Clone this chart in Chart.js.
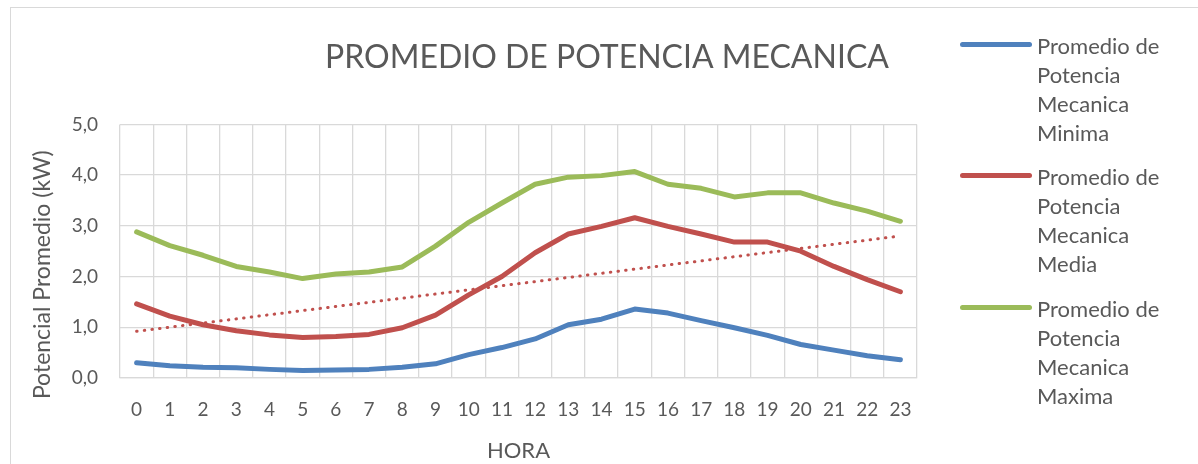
<!DOCTYPE html>
<html>
<head>
<meta charset="utf-8">
<script src="https://cdn.jsdelivr.net/npm/chart.js@4/dist/chart.umd.min.js"></script>
<style>
  html, body { margin: 0; padding: 0; background: #fff; overflow: hidden; }
  #wrap { position: relative; width: 1198px; height: 464px; }
  #frame { position: absolute; left: 10px; top: 7px; width: 1300px; height: 600px; border: 1px solid #d9d9d9; }
  #myChart { position: absolute; left: 0; top: 0; }
  .leg { position: absolute; left: 960px; font-family: Lato, sans-serif; font-size: 22px; line-height: 29px; color: #595959; }
  .leg .sw { position: absolute; left: 0; width: 72px; height: 5px; border-radius: 3px; }
  .leg .txt { position: absolute; left: 77px; top: 0; white-space: nowrap; }
</style>
</head>
<body>
<div id="wrap">
  <div id="frame"></div>
  <canvas id="myChart" width="1198" height="464"></canvas>
  <div id="legend"></div>
</div>
<script>
// horas del dia
const hours = ['0','1','2','3','4','5','6','7','8','9','10','11','12','13','14','15','16','17','18','19','20','21','22','23'];

// potencia mecanica promedio (kW)
const minima = [0.30,0.24,0.21,0.20,0.17,0.15,0.16,0.17,0.21,0.28,0.46,0.60,0.77,1.05,1.16,1.36,1.28,1.13,0.99,0.84,0.66,0.55,0.44,0.36];
const media  = [1.46,1.22,1.05,0.93,0.85,0.80,0.82,0.86,0.99,1.24,1.64,2.00,2.47,2.84,2.99,3.16,2.99,2.84,2.68,2.68,2.50,2.20,1.94,1.70];
const maxima = [2.88,2.61,2.42,2.20,2.09,1.96,2.05,2.09,2.19,2.60,3.07,3.45,3.82,3.96,3.99,4.07,3.82,3.74,3.57,3.65,3.65,3.45,3.29,3.09];

const trendStart = 0.92;
const trendEnd = 2.80;

const yTicks = [0, 1, 2, 3, 4, 5];

const seriesNames = [
  ['Promedio de', 'Potencia', 'Mecanica', 'Minima'],
  ['Promedio de', 'Potencia', 'Mecanica', 'Media'],
  ['Promedio de', 'Potencia', 'Mecanica', 'Maxima']
];
const colors = ['#4f81bd', '#c0504d', '#9bbb59'];

const gridColor = '#d9d9d9';
const textColor = '#595959';
const font = 'Lato';

function lineSet(label, data, color) {
  return {
    label: label,
    data: data,
    borderColor: color,
    backgroundColor: color,
    borderWidth: 5,
    pointRadius: 0,
    borderCapStyle: 'round',
    borderJoinStyle: 'round',
    tension: 0,
    fill: false
  };
}

const trendData = hours.map((h, i) => i === 0 ? trendStart : (i === hours.length - 1 ? trendEnd : null));

const ctx = document.getElementById('myChart').getContext('2d');
new Chart(ctx, {
  type: 'line',
  data: {
    labels: hours,
    datasets: [
      lineSet(seriesNames[0].join(' '), minima, colors[0]),
      lineSet(seriesNames[1].join(' '), media, colors[1]),
      lineSet(seriesNames[2].join(' '), maxima, colors[2]),
      {
        label: 'Lineal (Promedio de Potencia Mecanica Media)',
        data: trendData,
        spanGaps: true,
        borderColor: colors[1],
        borderWidth: 3,
        borderDash: [0.5, 7.2],
        borderCapStyle: 'round',
        pointRadius: 0,
        fill: false
      }
    ]
  },
  options: {
    responsive: false,
    animation: false,
    layout: { padding: { left: 16, right: 0, top: 0, bottom: 0 } },
    plugins: {
      legend: { display: false },
      tooltip: { enabled: false },
      title: {
        display: true,
        text: 'PROMEDIO DE POTENCIA MECANICA',
        color: textColor,
        font: { family: font, size: 32, weight: 'normal', lineHeight: 1.2 },
        padding: { top: 38, bottom: 48 }
      }
    },
    scales: {
      x: {
        offset: true,
        grid: { color: gridColor, lineWidth: 1.3, offset: true, drawTicks: false },
        border: { color: gridColor, width: 1.3 },
        ticks: { color: textColor, font: { family: font, size: 19 }, padding: 20, maxRotation: 0, autoSkip: false },
        title: {
          display: true,
          text: 'HORA',
          color: textColor,
          font: { family: font, size: 22, lineHeight: 1.2 },
          padding: { top: 0, bottom: 0 }
        },
        afterFit: (scale) => { scale.height = 86; }
      },
      y: {
        min: 0,
        max: 5,
        afterBuildTicks: (scale) => { scale.ticks = yTicks.map(v => ({ value: v })); },
        grid: { color: gridColor, lineWidth: 1.3, drawTicks: false },
        border: { display: false },
        ticks: {
          color: textColor,
          font: { family: font, size: 19 },
          padding: 22,
          callback: (v) => Number(v).toFixed(1).replace('.', ',')
        },
        title: {
          display: true,
          // espacios al final para bajar un poco el titulo, como en el original
          text: 'Potencial Promedio (kW)' + '\u00a0'.repeat(8),
          color: textColor,
          font: { family: font, size: 23, lineHeight: 1.2 },
          padding: { top: 13, bottom: 0 }
        },
        afterFit: (scale) => { scale.width = 104; }
      },
      // espacio para la leyenda
      yR: {
        position: 'right',
        display: true,
        grid: { display: false },
        border: { display: false },
        ticks: { display: false },
        afterFit: (scale) => { scale.width = 281; }
      }
    }
  }
});

// leyenda en html (texto en varias lineas)
const legendTops = [31, 162, 294];
const legendEl = document.getElementById('legend');
seriesNames.forEach((lines, i) => {
  const item = document.createElement('div');
  item.className = 'leg';
  item.style.top = legendTops[i] + 'px';
  item.innerHTML = '<div class="sw" style="top:11px;background:' + colors[i] + '"></div>' +
    '<div class="txt">' + lines.join('<br>') + '</div>';
  legendEl.appendChild(item);
});
</script>
</body>
</html>
